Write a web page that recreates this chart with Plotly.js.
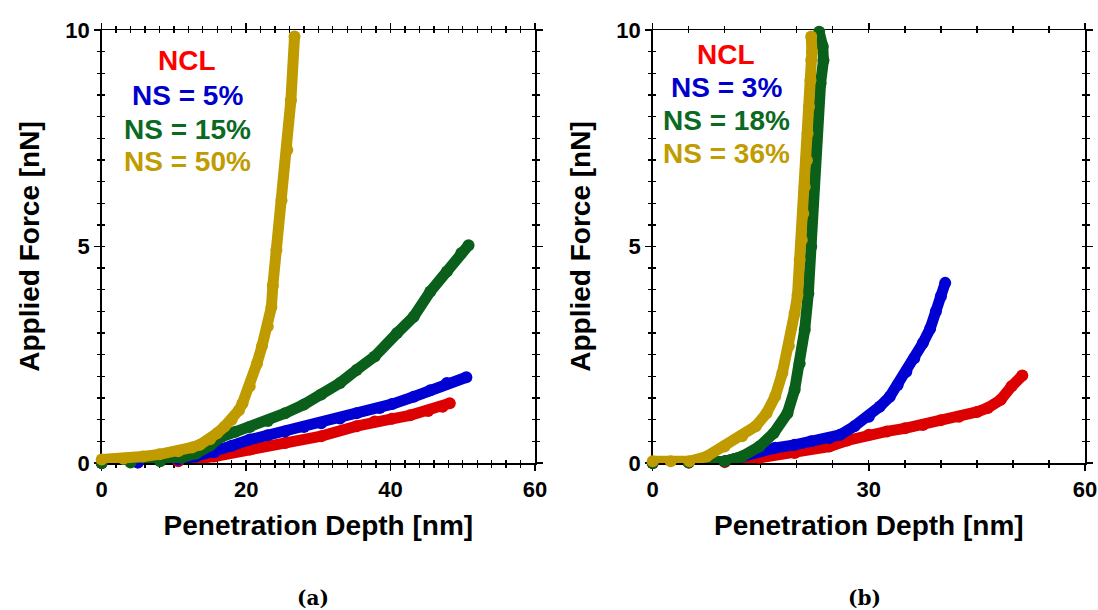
<!DOCTYPE html>
<html>
<head>
<meta charset="utf-8">
<script src="https://cdn.plot.ly/plotly-3.0.1.min.js"></script>
<style>
  html, body { margin: 0; padding: 0; background: #ffffff; }
  #chart { width: 1098px; height: 610px; }
</style>
</head>
<body>
<div id="chart"></div>
<script>
// Force–depth curves, panel (a)
const ncl_a_x = [0, 5, 10.6, 15.6, 20.5, 25.4, 30.4, 35.3, 37.8, 40.2, 42.7, 45.2, 47.2, 48.2];
const ncl_a_y = [0, 0.01, 0.04, 0.15, 0.31, 0.46, 0.62, 0.85, 0.96, 1.02, 1.1, 1.2, 1.3, 1.38];

const ns5_a_x = [0, 5, 10.6, 13, 15.6, 18, 20.5, 23, 25.4, 28, 30.4, 33, 35.3, 38.5, 40.2, 43.2, 45.5, 47.8, 50.5];
const ns5_a_y = [0, 0.01, 0.08, 0.15, 0.25, 0.4, 0.54, 0.64, 0.73, 0.83, 0.92, 1.03, 1.15, 1.27, 1.36, 1.53, 1.68, 1.85, 1.98];

const ns15_a_x = [0, 4, 8.1, 11, 13.1, 15, 16.5, 18.5, 20.5, 23, 25.4, 28, 30.4, 33, 35.3, 37.8, 40.9, 43.2, 45.5, 47.8, 49.8, 50.8];
const ns15_a_y = [0, 0.01, 0.04, 0.12, 0.22, 0.4, 0.6, 0.72, 0.83, 0.97, 1.15, 1.35, 1.58, 1.85, 2.15, 2.46, 3.0, 3.38, 3.96, 4.42, 4.85, 5.03];

const ns50_a_x = [0, 3, 5.7, 8, 10.6, 12.5, 13.6, 15, 16, 17, 18, 19, 19.5, 20.5, 21.5, 22.2, 23, 23.5, 23.7, 24.2, 24.9, 25.7, 26.2, 26.7];
const ns50_a_y = [0.08, 0.1, 0.15, 0.2, 0.27, 0.36, 0.42, 0.55, 0.69, 0.84, 1.0, 1.22, 1.38, 1.77, 2.3, 2.7, 3.15, 3.6, 4.1, 4.92, 6.07, 7.23, 8.38, 9.85];

// Force–depth curves, panel (b)
const ncl_b_x = [0, 5, 10, 14.8, 19.7, 24.5, 27, 30, 32.5, 35, 37.5, 40, 42.5, 45, 46.5, 48.3, 49.8, 51.3];
const ncl_b_y = [0, 0.01, 0.02, 0.12, 0.23, 0.38, 0.52, 0.65, 0.73, 0.8, 0.88, 0.99, 1.07, 1.18, 1.27, 1.46, 1.77, 2.02];

const ns3_b_x = [0, 5, 10, 12.5, 14.8, 17, 19.7, 22, 24.5, 26, 28, 30, 31.5, 32.9, 34, 35.2, 36.3, 37.5, 38.5, 39.3, 40, 40.6];
const ns3_b_y = [0, 0.02, 0.04, 0.15, 0.27, 0.35, 0.42, 0.5, 0.58, 0.65, 0.85, 1.07, 1.3, 1.53, 1.8, 2.11, 2.42, 2.77, 3.1, 3.5, 3.85, 4.16];

const ns18_b_x = [0, 5, 10, 12.4, 14.8, 16.8, 18.7, 19.7, 20.4, 21.1, 21.6, 22.0, 22.2, 22.5, 22.8, 23.3, 23.7, 23.6, 23.1];
const ns18_b_y = [0, 0.01, 0.04, 0.15, 0.38, 0.69, 1.15, 1.69, 2.3, 3.08, 3.92, 5.0, 6.07, 7.23, 8.15, 8.77, 9.3, 9.62, 9.96];

const ns36_b_x = [0, 2.5, 5.1, 7.5, 9.96, 12.4, 14.3, 15.8, 17, 18, 18.9, 19.7, 20.1, 20.4, 20.7, 20.9, 21.1, 21.4, 21.5, 21.7, 21.9, 22.0, 22.1, 22.0];
const ns36_b_y = [0.04, 0.04, 0.04, 0.15, 0.38, 0.62, 0.85, 1.15, 1.54, 2.08, 2.7, 3.46, 3.88, 4.69, 5.15, 5.76, 6.38, 6.99, 7.61, 8.23, 8.84, 9.31, 9.5, 9.85];

// Tick values and their labels
const xTicksA = [0, 20, 40, 60];
const xTicksB = [0, 30, 60];
const yTicks = [0, 5, 10];

// Series names shown inside each panel, and panel captions
const labels_a = ['NCL', 'NS = 5%', 'NS = 15%', 'NS = 50%'];
const labels_b = ['NCL', 'NS = 3%', 'NS = 18%', 'NS = 36%'];
const captions = ['(a)', '(b)'];

const markColors = ['#dd0000', '#0000d2', '#0a5f1a', '#bf9b00'];
const textColors = ['#ff0000', '#0000cc', '#0b6a22', '#c09c00'];

const W = 1098, H = 610;
const fx = px => px / W;
const fy = py => 1 - py / H;

const domA = [fx(101.7), fx(535)];
const domB = [fx(652.7), fx(1085)];
const domY = [fy(463), fy(30)];

function curve(x, y, color, xa, ya) {
  return {
    x: x, y: y, xaxis: xa, yaxis: ya,
    type: 'scatter', mode: 'lines+markers',
    line: { color: color, width: 11 },
    marker: { color: color, size: 12, line: { width: 0 } },
    cliponaxis: false, hoverinfo: 'x+y'
  };
}

const traces = [
  curve(ncl_a_x, ncl_a_y, markColors[0], 'x', 'y'),
  curve(ns5_a_x, ns5_a_y, markColors[1], 'x', 'y'),
  curve(ns15_a_x, ns15_a_y, markColors[2], 'x', 'y'),
  curve(ns50_a_x, ns50_a_y, markColors[3], 'x', 'y'),
  curve(ncl_b_x, ncl_b_y, markColors[0], 'x2', 'y2'),
  curve(ns3_b_x, ns3_b_y, markColors[1], 'x2', 'y2'),
  curve(ns18_b_x, ns18_b_y, markColors[2], 'x2', 'y2'),
  curve(ns36_b_x, ns36_b_y, markColors[3], 'x2', 'y2'),
  // empty traces that bring the inner-tick axes to life
  { x: [], y: [], xaxis: 'x3', yaxis: 'y3', type: 'scatter', mode: 'markers', hoverinfo: 'skip' },
  { x: [], y: [], xaxis: 'x4', yaxis: 'y4', type: 'scatter', mode: 'markers', hoverinfo: 'skip' }
];

const SANS = 'Liberation Sans';
const tickFont = { family: SANS, size: 22, color: '#000', weight: 'bold' };
const titleFont = { family: SANS, size: 28, color: '#000', weight: 'bold' };
const bold = v => '<b>' + v + '</b>';

function mainX(domain, vals, minorStep, anchor) {
  return {
    domain: domain, range: [0, 60], anchor: anchor,
    tickmode: 'array', tickvals: vals, ticktext: vals.map(bold),
    ticks: 'outside', ticklen: 6, tickwidth: 1.5, tickcolor: '#000',
    minor: { tickmode: 'linear', tick0: 0, dtick: minorStep, ticks: 'outside', ticklen: 3, tickwidth: 1.3, tickcolor: '#000' },
    showline: true, linecolor: '#000', linewidth: 1.5, mirror: 'ticks', layer: 'below traces',
    showgrid: false, zeroline: false, tickfont: tickFont,
    title: { text: bold('Penetration Depth [nm]'), font: titleFont, standoff: 14 }
  };
}
function mainY(anchor) {
  return {
    domain: domY, range: [0, 10], anchor: anchor,
    tickmode: 'array', tickvals: yTicks, ticktext: yTicks.map(bold),
    ticks: 'outside', ticklen: 6, tickwidth: 1.5, tickcolor: '#000',
    minor: { tickmode: 'linear', tick0: 0, dtick: 0.5, ticks: 'outside', ticklen: 3, tickwidth: 1.3, tickcolor: '#000' },
    showline: true, linecolor: '#000', linewidth: 1.5, mirror: 'ticks', layer: 'below traces',
    showgrid: false, zeroline: false, tickfont: tickFont,
    title: { text: bold('Applied Force [nN]'), font: titleFont, standoff: 17 }
  };
}
function innerX(over, anchor, domain, step) {
  return {
    overlaying: over, anchor: anchor, domain: domain, range: [0, 60],
    tick0: 0, dtick: step, ticks: 'inside', ticklen: 3, tickwidth: 1.3, tickcolor: '#000',
    showticklabels: false, showline: false, mirror: 'ticks', layer: 'below traces',
    showgrid: false, zeroline: false
  };
}
function innerY(over, anchor) {
  return {
    overlaying: over, anchor: anchor, domain: domY, range: [0, 10],
    tick0: 0, dtick: 0.5, ticks: 'inside', ticklen: 3, tickwidth: 1.3, tickcolor: '#000',
    showticklabels: false, showline: false, mirror: 'ticks', layer: 'below traces',
    showgrid: false, zeroline: false
  };
}

const annotations = [];
const labelFont = (c) => ({ family: SANS, size: 28, color: c, weight: 'bold' });
const rowsA = [61, 95, 129, 161];
const rowsB = [54, 88, 121, 154];
labels_a.forEach((t, i) => annotations.push({
  text: bold(t), xref: 'paper', yref: 'paper', x: fx(187), y: fy(rowsA[i]),
  xanchor: 'center', yanchor: 'middle', showarrow: false, font: labelFont(textColors[i])
}));
labels_b.forEach((t, i) => annotations.push({
  text: bold(t), xref: 'paper', yref: 'paper', x: fx(726), y: fy(rowsB[i]),
  xanchor: 'center', yanchor: 'middle', showarrow: false, font: labelFont(textColors[i])
}));
[313, 864].forEach((px, i) => annotations.push({
  text: bold(captions[i]), xref: 'paper', yref: 'paper', x: fx(px), y: fy(598),
  xanchor: 'center', yanchor: 'middle', showarrow: false,
  font: { family: 'DejaVu Serif', size: 20, color: '#000', weight: 'bold' }
}));

const layout = {
  width: W, height: H,
  margin: { l: 0, r: 0, t: 0, b: 0 },
  paper_bgcolor: '#ffffff', plot_bgcolor: 'rgba(0,0,0,0)',
  showlegend: false,
  xaxis: mainX(domA, xTicksA, 2, 'y'),
  yaxis: mainY('x'),
  xaxis2: mainX(domB, xTicksB, 5, 'y2'),
  yaxis2: mainY('x2'),
  xaxis3: innerX('x', 'y3', domA, 2),
  yaxis3: innerY('y', 'x3'),
  xaxis4: innerX('x2', 'y4', domB, 5),
  yaxis4: innerY('y2', 'x4'),
  annotations: annotations
};

Plotly.newPlot('chart', traces, layout, { staticPlot: true, displayModeBar: false });
</script>
</body>
</html>
